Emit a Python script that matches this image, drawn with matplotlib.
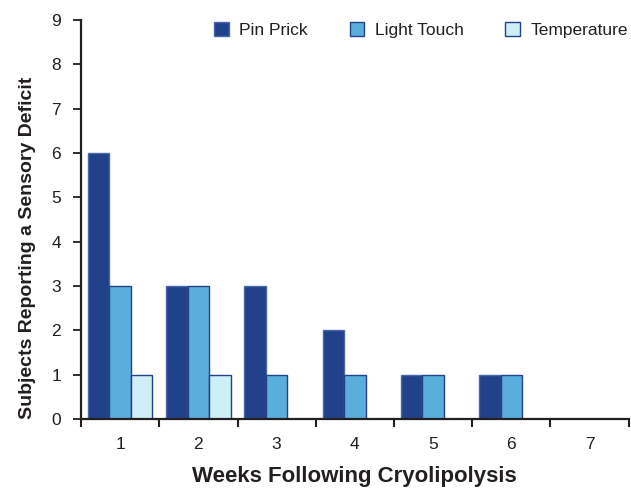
import matplotlib
matplotlib.use("Agg")
import matplotlib.pyplot as plt
import numpy as np

plt.rcParams['font.family'] = ['Liberation Sans', 'DejaVu Sans']

weeks = ["1", "2", "3", "4", "5", "6", "7"]
pin_prick = [6, 3, 3, 2, 1, 1, 0]
light_touch = [3, 3, 1, 1, 1, 1, 0]
temperature = [1, 1, 0, 0, 0, 0, 0]

series = [
    ("Pin Prick", pin_prick, "#21418a", "#4a68a8"),
    ("Light Touch", light_touch, "#5aaedb", "#22418a"),
    ("Temperature", temperature, "#cdeff5", "#22418a"),
]

fig = plt.figure(figsize=(6.31, 4.88), dpi=100)
ax = fig.add_axes([0.1284, 0.1414, 0.868, 0.8176])

x = np.arange(1, len(weeks) + 1)
w = 0.275
ink = "#231f20"
for i, (name, vals, fc, ec) in enumerate(series):
    vals = np.array(vals, dtype=float)
    pos = x + (i - 1) * w
    mask = vals > 0
    ax.bar(pos[mask], vals[mask], width=w, color=fc, edgecolor=ec, linewidth=1.0, label=name)

ax.set_xlim(0.5, 7.5)
ax.set_ylim(0, 9)
ax.set_yticks(range(0, 10))
ax.set_xticks(np.arange(0.5, 7.6, 1.0))
ax.set_xticklabels([])
ax.set_xticks(x, minor=True)
ax.set_xticklabels(weeks, minor=True)
ax.tick_params(axis='x', which='major', direction='out', length=6, width=1.5, color=ink)
ax.tick_params(axis='x', which='minor', length=0, pad=13, labelsize=12.5, labelcolor=ink)
ax.tick_params(axis='y', direction='out', length=5.5, width=1.3, color=ink, labelsize=12.5, labelcolor=ink, pad=9)

for s in ['top', 'right']:
    ax.spines[s].set_visible(False)
for s in ['left', 'bottom']:
    ax.spines[s].set_linewidth(1.6)
    ax.spines[s].set_color(ink)

ax.set_xlabel("Weeks Following Cryolipolysis", fontsize=16, fontweight='bold', color=ink, labelpad=10)
ax.set_ylabel("Subjects Reporting a Sensory Deficit", fontsize=14, fontweight='bold', color=ink)
ax.yaxis.set_label_coords(-0.082, 0.43)

leg = fig.legend(*ax.get_legend_handles_labels(), loc='center right',
                 bbox_to_anchor=(628 / 631, (488 - 30) / 488), bbox_transform=fig.transFigure,
                 ncol=3, frameon=False, borderpad=0, borderaxespad=0,
                 fontsize=12.5, handlelength=0.85, handleheight=0.85, handletextpad=0.6,
                 columnspacing=2.4)
for t in leg.get_texts():
    t.set_color(ink)

fig.savefig("out.png", dpi=100)
